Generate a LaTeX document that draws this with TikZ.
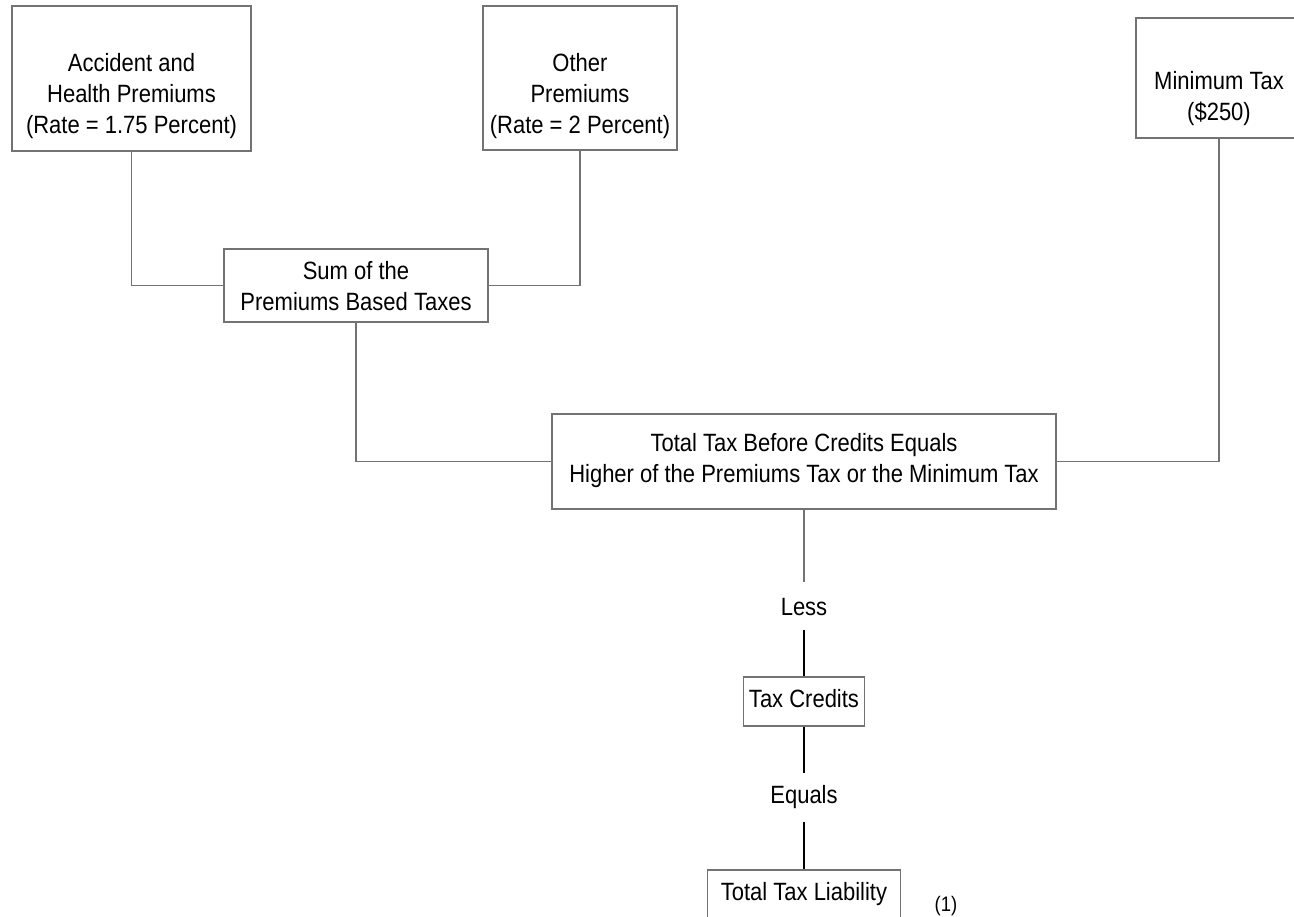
\documentclass[tikz,border=0pt]{standalone}
\usepackage{fontspec}
\setmainfont{Liberation Sans}[FakeStretch=0.88]
\definecolor{boxgray}{RGB}{115,115,115}
\newcommand\mystrutA{\rule[-7pt]{0pt}{24pt}}
\newcommand\mystrutB{\rule[-4pt]{0pt}{27pt}}
\newcommand\mystrutC{\rule[-1.5pt]{0pt}{29.5pt}}
\tikzset{
  box/.style={draw=boxgray, line width=1.2pt, inner sep=0pt, align=center,
    font=\fontsize{25}{31}\selectfont, text=black},
  conn/.style={draw=boxgray, line width=1.2pt},
  blk/.style={draw=black, line width=2pt},
  lbl/.style={inner sep=0pt, font=\fontsize{25}{31}\selectfont}
}
\begin{document}
\begin{tikzpicture}[x=1pt,y=-1pt]
\useasboundingbox (0,0) rectangle (1294,917);
\node[box, minimum width=239, minimum height=145] (acc) at (131.5,78.5)
  {\mystrutB\\\mystrutB Accident and\\\mystrutB Health Premiums\\\mystrutB(Rate = 1.75 Percent)};
\node[box, minimum width=194, minimum height=144] (oth) at (580,78)
  {\mystrutB\\\mystrutB Other\\\mystrutB Premiums\\\mystrutB(Rate = 2 Percent)};
\node[box, minimum width=166, minimum height=120] (min) at (1219,78)
  {\mystrutC\\\mystrutC Minimum Tax\hspace{12pt}\\\mystrutC(\$250)};
\node[box, minimum width=264, minimum height=73] (sum) at (356,285.5)
  {\mystrutB Sum of the\\\mystrutB Premiums Based Taxes};
\node[box, minimum width=504, minimum height=95] (tot) at (804,461.5)
  {\mystrutA Total Tax Before Credits Equals\\\mystrutA Higher of the Premiums Tax or the Minimum Tax};
\node[lbl, minimum height=48] (less) at (804,606) {\mystrutB Less};
\node[box, minimum width=121, minimum height=49] (tc) at (804,701.5) {\mystrutA Tax Credits};
\node[lbl, minimum height=49] (eq) at (804,797.5) {\mystrutA Equals};
\node[box, minimum width=193, minimum height=49] (ttl) at (804,894.5) {\mystrutA Total Tax Liability};
\node[inner sep=0pt, font=\fontsize{21}{25}\selectfont] (note) at (946,906) {(1)};
\draw[conn] (acc.south) |- (sum.west);
\draw[conn] (oth.south) |- (sum.east);
\draw[conn] (sum.south) |- (tot.west);
\draw[conn] (min.south) |- (tot.east);
\draw[conn] (tot.south) -- (less.north);
\draw[blk] (less.south) -- (tc.north);
\draw[blk] (tc.south) -- (eq.north);
\draw[blk] (eq.south) -- (ttl.north);
\end{tikzpicture}
\end{document}
